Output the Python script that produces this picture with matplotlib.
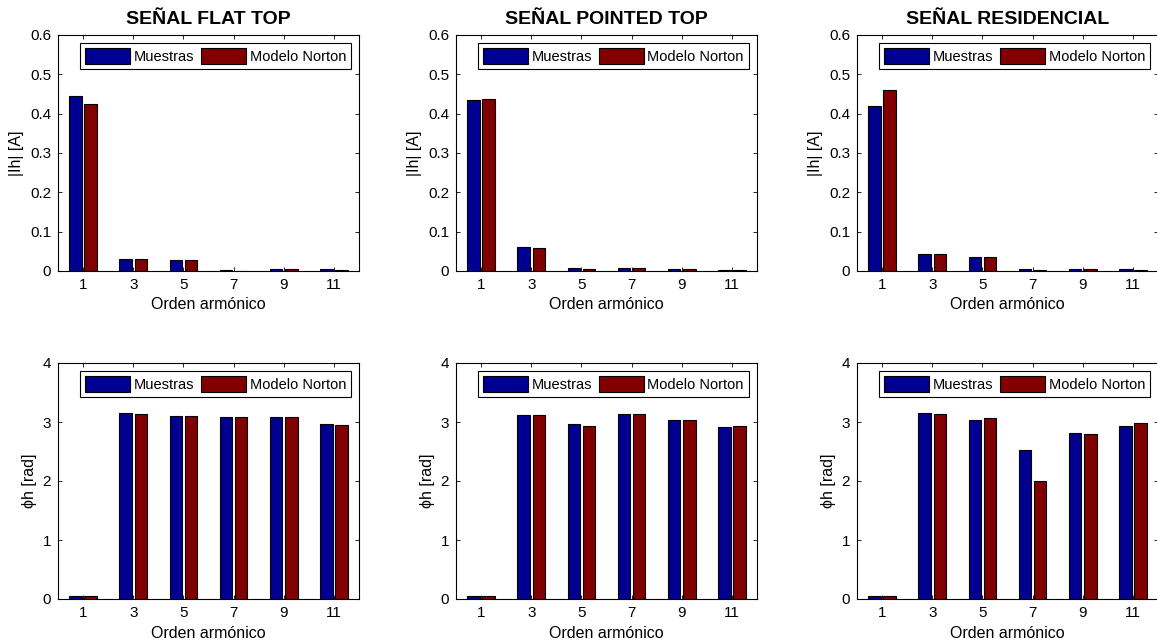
import matplotlib
matplotlib.use("Agg")
import matplotlib.pyplot as plt
import numpy as np

plt.rcParams['font.family'] = ['Liberation Sans', 'DejaVu Sans']

armonicos = ['1', '3', '5', '7', '9', '11']
titulos = ['SEÑAL FLAT TOP', 'SEÑAL POINTED TOP', 'SEÑAL RESIDENCIAL']

# magnitud de los armónicos |Ih| [A]
mag_muestras = [
    [0.445, 0.030, 0.027, 0.002, 0.004, 0.004],
    [0.435, 0.062, 0.008, 0.008, 0.005, 0.002],
    [0.420, 0.043, 0.035, 0.004, 0.004, 0.004],
]
mag_norton = [
    [0.425, 0.030, 0.027, 0.001, 0.004, 0.002],
    [0.438, 0.058, 0.005, 0.007, 0.005, 0.002],
    [0.460, 0.043, 0.035, 0.002, 0.004, 0.002],
]

# fase de los armónicos [rad]
fase_muestras = [
    [0.05, 3.15, 3.11, 3.08, 3.09, 2.97],
    [0.05, 3.12, 2.97, 3.14, 3.04, 2.91],
    [0.05, 3.15, 3.04, 2.52, 2.82, 2.93],
]
fase_norton = [
    [0.05, 3.13, 3.11, 3.08, 3.08, 2.95],
    [0.05, 3.12, 2.93, 3.14, 3.04, 2.93],
    [0.05, 3.13, 3.06, 2.00, 2.80, 2.99],
]

azul = '#000090'
rojo = '#800000'

fig = plt.figure(figsize=(11.57, 6.43), dpi=100)
W, H = 1157.0, 643.0
lefts = [58, 456, 857]
ancho = 301


def dibujar(ax, muestras, norton, ylim, yticks, ylabel, ticklabels):
    x = np.arange(1, len(armonicos) + 1)
    ax.bar(x - 0.15, muestras, width=0.25, color=azul, edgecolor='black',
           linewidth=0.8, label='Muestras')
    ax.bar(x + 0.15, norton, width=0.25, color=rojo, edgecolor='black',
           linewidth=0.8, label='Modelo Norton')
    ax.set_xlim(0.5, 6.5)
    ax.set_ylim(*ylim)
    ax.set_xticks(x)
    ax.set_xticklabels(armonicos)
    ax.set_yticks(yticks)
    ax.set_yticklabels(ticklabels)
    ax.tick_params(direction='in', top=True, right=True, labelsize=11,
                   length=3, width=0.6, pad=5)
    for s in ax.spines.values():
        s.set_linewidth(0.8)
    ax.set_xlabel('Orden armónico', fontsize=11.5, labelpad=4)
    ax.set_ylabel(ylabel, fontsize=11.5, labelpad=4)
    leg = ax.legend(loc='upper right', ncol=2, fontsize=10.5, fancybox=False,
                    framealpha=1, edgecolor='black', handlelength=3.1,
                    handleheight=1.3, handletextpad=0.25, columnspacing=0.45,
                    borderpad=0.35, borderaxespad=0.55)
    leg.get_frame().set_linewidth(0.8)


for j in range(3):
    ax_top = fig.add_axes([lefts[j] / W, (H - 271) / H, ancho / W, 236 / H])
    dibujar(ax_top, mag_muestras[j], mag_norton[j], (0, 0.6),
            np.arange(0, 0.61, 0.1), '|Ih| [A]',
            ['0', '0.1', '0.2', '0.3', '0.4', '0.5', '0.6'])
    ax_top.set_title(titulos[j], fontsize=14, fontweight='bold', pad=8)

    ax_bot = fig.add_axes([lefts[j] / W, (H - 599) / H, ancho / W, 236 / H])
    dibujar(ax_bot, fase_muestras[j], fase_norton[j], (0, 4),
            [0, 1, 2, 3, 4], '\u03d5h [rad]', ['0', '1', '2', '3', '4'])

fig.savefig('out.png', dpi=100)
